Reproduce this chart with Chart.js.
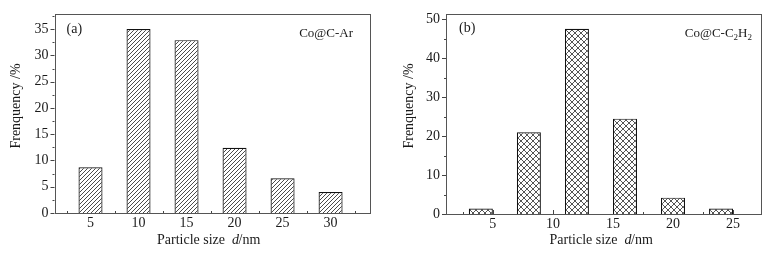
<!DOCTYPE html>
<html>
<head>
<meta charset="utf-8">
<script src="https://cdn.jsdelivr.net/npm/chart.js@4"></script>
<style>
  body { margin: 0; background: #fff; }
  .panel { position: absolute; top: 0; width: 385px; height: 254px; }
</style>
</head>
<body>
<div class="panel" style="left:0"><canvas id="chartA" width="385" height="254"></canvas></div>
<div class="panel" style="left:386px"><canvas id="chartB" width="385" height="254"></canvas></div>
<script>
// panel (a) Co@C-Ar
const sizesA = [5, 10, 15, 20, 25, 30];
const freqA = [8.7, 35.0, 32.9, 12.4, 6.6, 4.0];
const xTicksA = [5, 10, 15, 20, 25, 30];
const yTicksA = [0, 5, 10, 15, 20, 25, 30, 35];

// panel (b) Co@C-C2H2
const sizesB = [4, 8, 12, 16, 20, 24];
const freqB = [1.4, 21.0, 47.6, 24.5, 4.2, 1.4];
const xTicksB = [5, 10, 15, 20, 25];
const yTicksB = [0, 10, 20, 30, 40, 50];

const SERIF = '"Liberation Serif", "DejaVu Serif", serif';
const INK = '#1a1a1a';

function hatchPattern() {
    const c = document.createElement('canvas');
    c.width = 4; c.height = 4;
    const g = c.getContext('2d');
    g.fillStyle = '#fff';
    g.fillRect(0, 0, 4, 4);
    g.strokeStyle = '#2a2a2a';
    g.lineWidth = 0.85;
    g.beginPath();
    g.moveTo(-1, 5); g.lineTo(5, -1);
    g.moveTo(-1, 1); g.lineTo(1, -1);
    g.moveTo(3, 5); g.lineTo(5, 3);
    g.stroke();
    return g.createPattern(c, 'repeat');
}

function crossPattern() {
    const c = document.createElement('canvas');
    c.width = 6; c.height = 6;
    const g = c.getContext('2d');
    g.fillStyle = '#fff';
    g.fillRect(0, 0, 6, 6);
    g.strokeStyle = '#2a2a2a';
    g.lineWidth = 0.8;
    g.beginPath();
    g.moveTo(-1, -1); g.lineTo(7, 7);
    g.moveTo(-1, 7); g.lineTo(7, -1);
    g.stroke();
    return g.createPattern(c, 'repeat');
}

// ticks, frame and texts, all placed from the scales
function decorPlugin(cfg) {
    return {
        id: 'decor',
        beforeDatasetsDraw(chart) {
            const ctx = chart.ctx, x = chart.scales.x, y = chart.scales.y, a = chart.chartArea;
            ctx.save();
            ctx.strokeStyle = '#444';
            ctx.lineWidth = 1;
            ctx.beginPath();
            // x ticks point up into the plot
            for (let v = Math.ceil(x.min / cfg.xMinor) * cfg.xMinor; v <= x.max; v += cfg.xMinor) {
                const px = Math.round(x.getPixelForValue(v)) + 0.5;
                const len = cfg.xTicks.includes(v) ? 4 : 2;
                ctx.moveTo(px, a.bottom);
                ctx.lineTo(px, a.bottom - len);
            }
            // y ticks point out to the left
            for (let v = 0; v <= y.max; v += cfg.yMinor) {
                const py = Math.round(y.getPixelForValue(v)) + 0.5;
                const len = cfg.yTicks.includes(v) ? 4 : 2;
                ctx.moveTo(a.left, py);
                ctx.lineTo(a.left - len, py);
            }
            ctx.stroke();
            ctx.restore();
        },
        afterDatasetsDraw(chart) {
            const ctx = chart.ctx, a = chart.chartArea;
            ctx.save();
            ctx.strokeStyle = '#555';
            ctx.lineWidth = 1;
            ctx.strokeRect(Math.round(a.left) + 0.5, Math.round(a.top) + 0.5,
                Math.round(a.right - a.left), Math.round(a.bottom - a.top));

            ctx.fillStyle = INK;
            ctx.textBaseline = 'middle';

            // panel letter
            ctx.font = '14px ' + SERIF;
            ctx.textAlign = 'left';
            ctx.fillText(cfg.letter, cfg.letterX, cfg.letterY);

            // sample name (right aligned, with optional subscripts)
            let nx = cfg.nameRight;
            for (let i = cfg.name.length - 1; i >= 0; i--) {
                const part = cfg.name[i];
                ctx.font = (part.sub ? '9px ' : '13px ') + SERIF;
                ctx.textAlign = 'right';
                ctx.fillText(part.t, nx, cfg.nameY + (part.sub ? 4 : 0));
                nx -= ctx.measureText(part.t).width;
            }

            // x axis title
            ctx.textAlign = 'left';
            ctx.font = '14px ' + SERIF;
            ctx.fillText('Particle size', cfg.xTitleX, 240);
            ctx.font = 'italic 14px ' + SERIF;
            ctx.fillText('d', cfg.xTitleX + 75, 240);
            ctx.font = '14px ' + SERIF;
            ctx.fillText('/nm', cfg.xTitleX + 81.5, 240);

            // y axis title
            ctx.translate(cfg.yTitleX, 106);
            ctx.rotate(-Math.PI / 2);
            ctx.textAlign = 'center';
            ctx.fillText('Frenquency /%', 0, 0);
            ctx.restore();
        }
    };
}

function makeChart(id, sizes, freq, pattern, xMin, xMax, yMax, xTicks, yTicks, pad, cfg) {
    const tickFont = { family: SERIF, size: 14 };
    return new Chart(document.getElementById(id), {
        type: 'bar',
        data: {
            datasets: [{
                data: sizes.map((s, i) => ({ x: s, y: freq[i] })),
                backgroundColor: pattern,
                borderColor: '#111',
                borderWidth: 1.2,
                barPercentage: 0.5,
                categoryPercentage: 1
            }]
        },
        options: {
            responsive: false,
            animation: false,
            devicePixelRatio: 1,
            layout: { padding: { left: 0, top: pad.top, right: pad.right, bottom: 0 } },
            plugins: { legend: { display: false }, tooltip: { enabled: false } },
            scales: {
                x: {
                    type: 'linear', min: xMin, max: xMax, offset: false,
                    grid: { display: false, drawTicks: false }, border: { display: false },
                    afterBuildTicks: s => { s.ticks = xTicks.map(v => ({ value: v })); },
                    afterFit: s => { s.height = 254 - pad.bottom; },
                    ticks: { font: tickFont, color: INK, padding: 2, maxRotation: 0, autoSkip: false }
                },
                y: {
                    min: 0, max: yMax,
                    grid: { display: false, drawTicks: false }, border: { display: false },
                    afterBuildTicks: s => { s.ticks = yTicks.map(v => ({ value: v })); },
                    afterFit: s => { s.width = pad.left; },
                    ticks: { font: tickFont, color: INK, padding: 6, autoSkip: false }
                }
            }
        },
        plugins: [decorPlugin(cfg)]
    });
}

makeChart('chartA', sizesA, freqA, hatchPattern(), 1.25, 34, 37.8, xTicksA, yTicksA,
    { left: 54.5, top: 9.3, right: 16, bottom: 213 },
    { letter: '(a)', letterX: 66.5, letterY: 29.5,
      name: [{ t: 'Co@C-Ar' }], nameRight: 353, nameY: 33.5,
      xTitleX: 157, yTitleX: 16.5,
      xMinor: 2.5, yMinor: 2.5, xTicks: xTicksA, yTicks: yTicksA });

makeChart('chartB', sizesB, freqB, crossPattern(), 1.1, 27.3, 51.3, xTicksB, yTicksB,
    { left: 60, top: 9, right: 10.3, bottom: 214 },
    { letter: '(b)', letterX: 73, letterY: 28.5,
      name: [{ t: 'Co@C-C' }, { t: '2', sub: true }, { t: 'H' }, { t: '2', sub: true }],
      nameRight: 366, nameY: 33.5,
      xTitleX: 163.5, yTitleX: 23.5,
      xMinor: 2.5, yMinor: 5, xTicks: xTicksB, yTicks: yTicksB });
</script>
</body>
</html>
